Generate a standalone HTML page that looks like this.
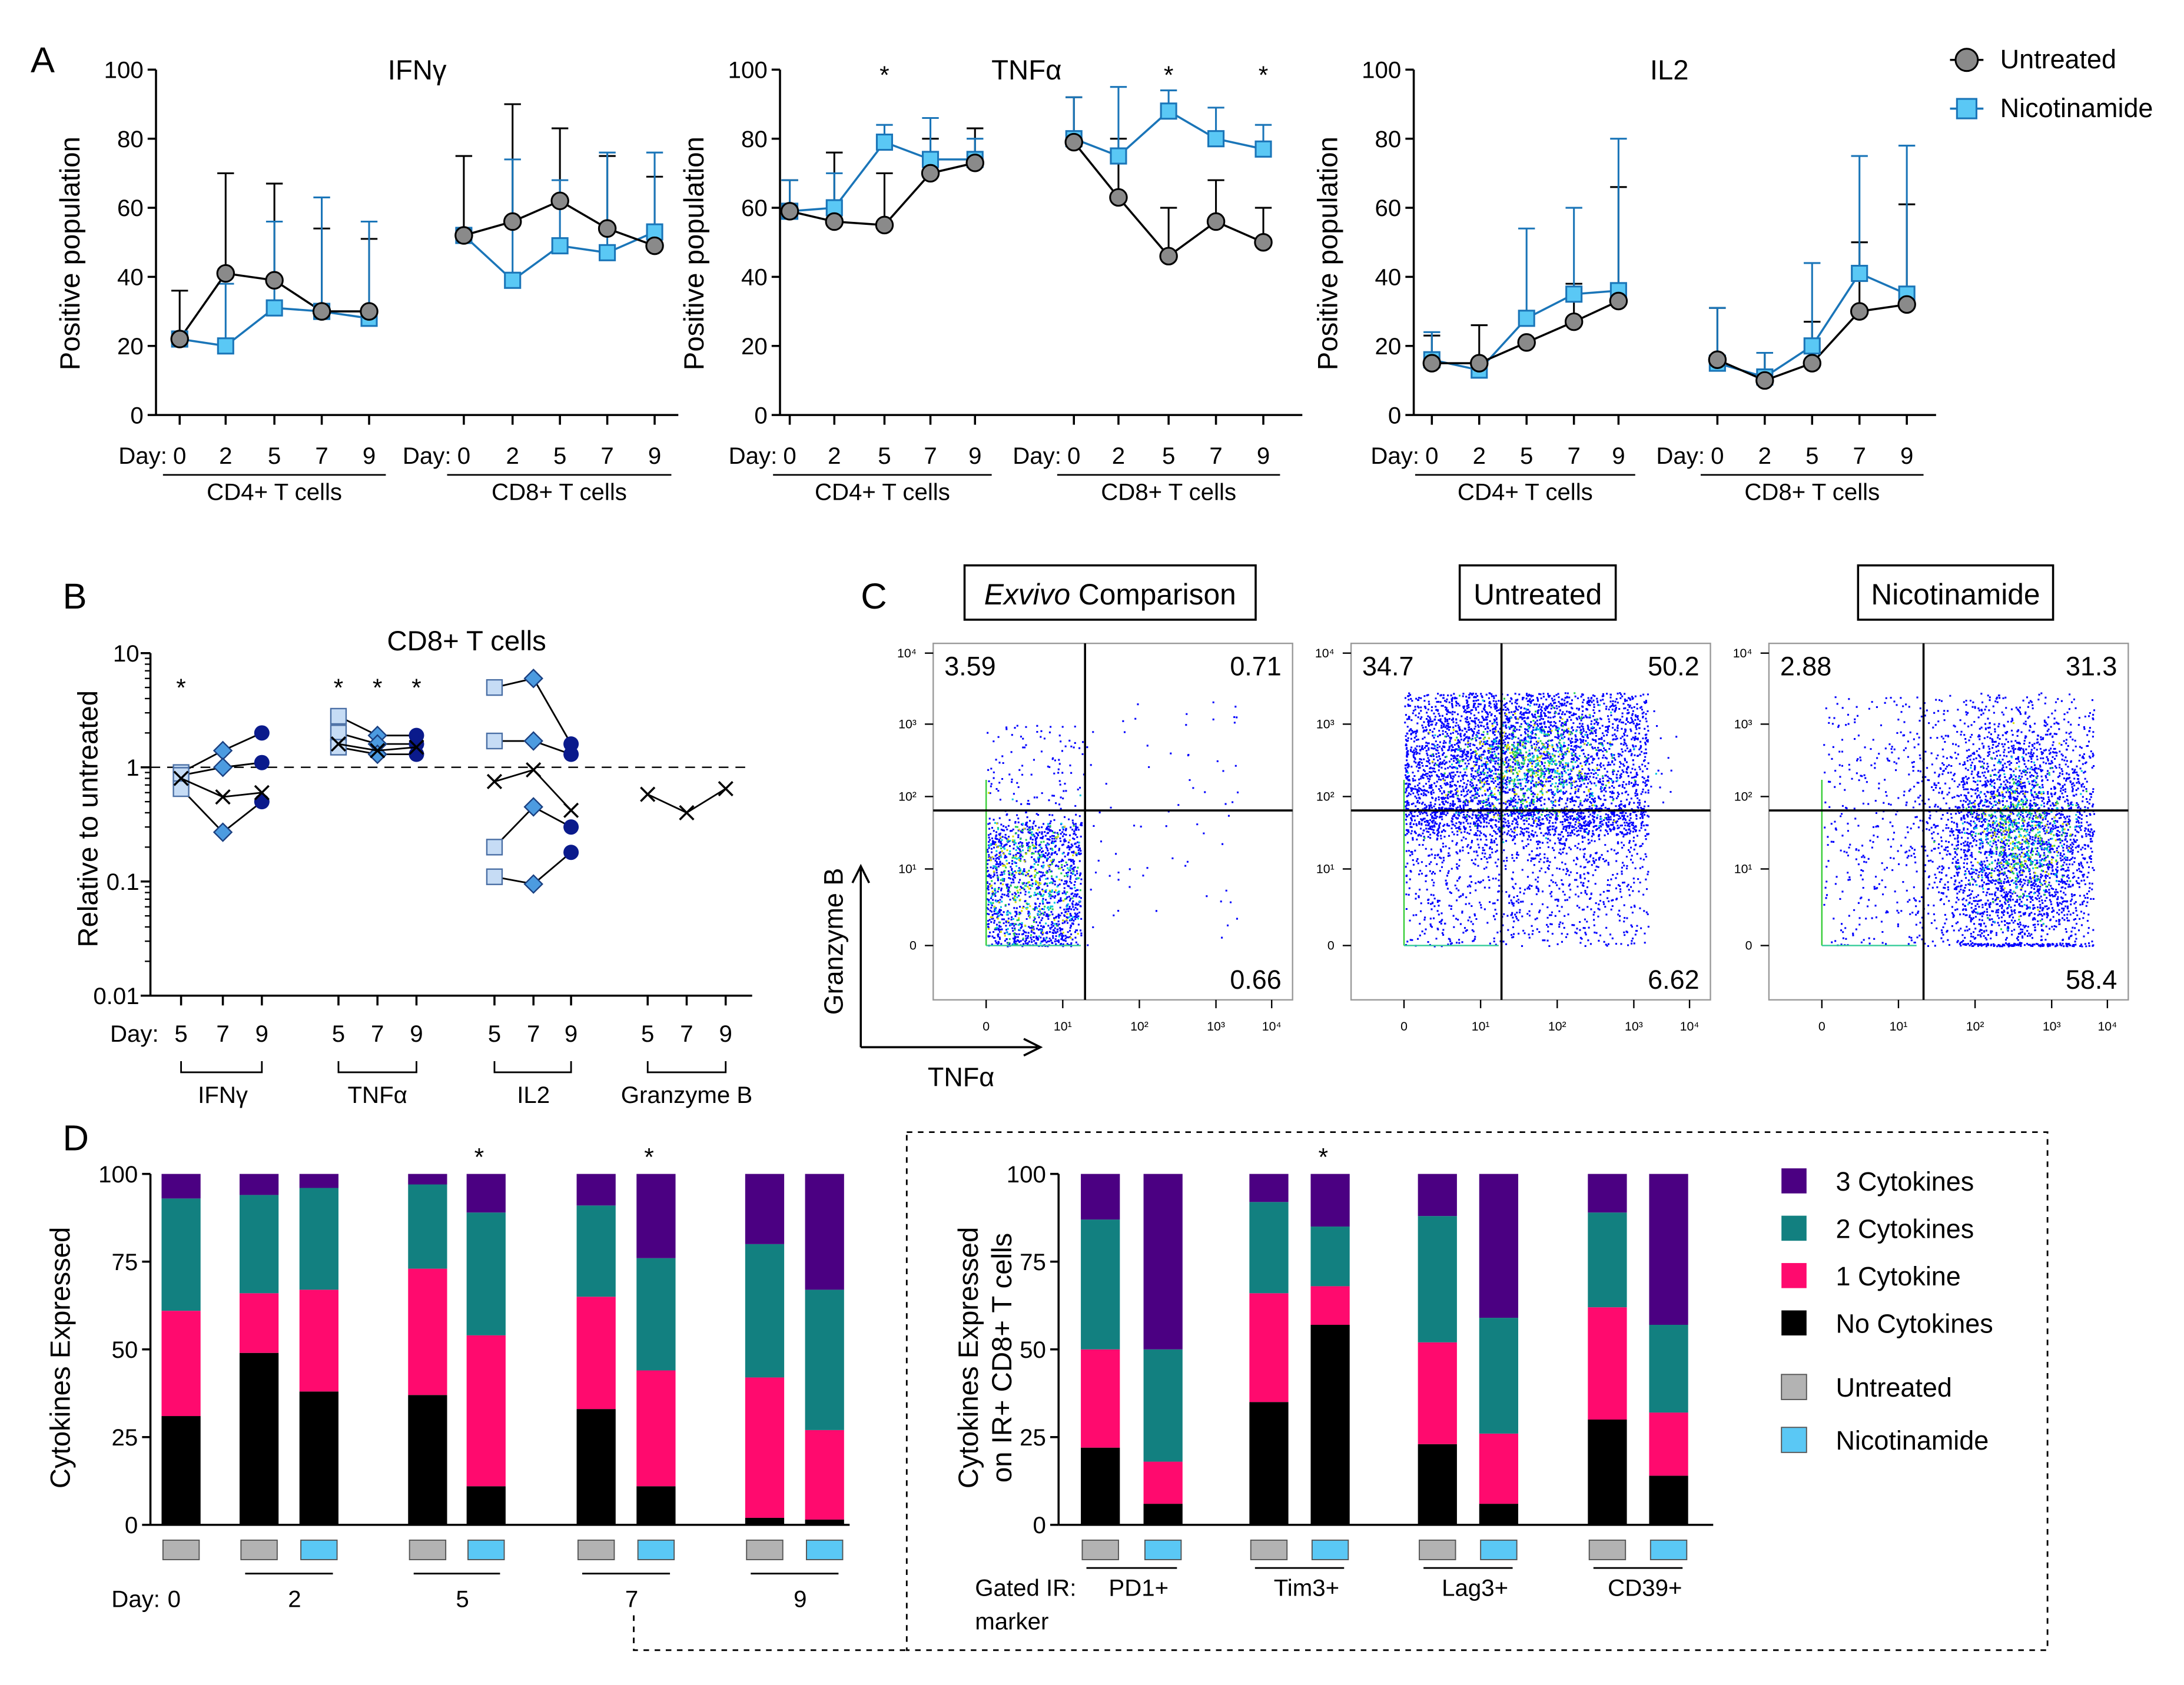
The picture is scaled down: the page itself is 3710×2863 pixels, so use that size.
<!DOCTYPE html>
<html><head><meta charset="utf-8">
<style>
html,body{margin:0;padding:0;background:#fff;}
svg{display:block;font-family:"Liberation Sans",Arial,sans-serif;}
</style></head>
<body>
<svg id="fig" width="3710" height="2863" viewBox="0 0 1568 1210" xmlns="http://www.w3.org/2000/svg">
<rect width="1568" height="1210" fill="#fff"/>
<g font-size="26">
<text x="22" y="52">A</text><text x="45" y="437">B</text><text x="618" y="437">C</text><text x="45" y="826">D</text>
</g>
</svg>
<script>
const NS='http://www.w3.org/2000/svg';
const svg=document.getElementById('fig');
function mk(tag,a,p){const e=document.createElementNS(NS,tag);for(const k in a)e.setAttribute(k,a[k]);(p||svg).appendChild(e);return e;}
function tx(x,y,s,a,p){const e=mk('text',Object.assign({x:x,y:y},a||{}),p);e.textContent=s;return e;}

// ===== Panel A data =====
const daysA=['0','2','5','7','9'];
const ifnUntr=[22,41,39,30,30, 52,56,62,54,49];
const ifnNic=[22,20,31,30,28, 52,39,49,47,53];
const ifnUntrErr=[36,70,67,54,51, 75,90,83,75,69];
const ifnNicErr=[22,38,56,63,56, 52,74,68,76,76];
const tnfUntr=[59,56,55,70,73, 79,63,46,56,50];
const tnfNic=[59,60,79,74,74, 80,75,88,80,77];
const tnfUntrErr=[68,76,70,80,83, 92,80,60,68,60];
const tnfNicErr=[68,70,84,86,80, 92,95,94,89,84];
const il2Untr=[15,15,21,27,33, 16,10,15,30,32];
const il2Nic=[16,13,28,35,36, 15,11,20,41,35];
const il2UntrErr=[23,26,21,38,66, 31,18,27,50,61];
const il2NicErr=[24,13,54,60,80, 31,18,44,75,78];
const ticksA=[0,20,40,60,80,100];

const BLUE='#1a75b8', SQ='#5ac8f5';
function drawA(ax0,xs,title,u,n,ue,ne,stars,name){
  const g=mk('g',{});
  
  
  const y=v=>298-v*2.48;
  mk('line',{x1:ax0,y1:y(100),x2:ax0,y2:298,stroke:'#000','stroke-width':1.5},g);
  mk('line',{x1:ax0,y1:298,x2:ax0+375,y2:298,stroke:'#000','stroke-width':1.5},g);
  ticksA.forEach(t=>{mk('line',{x1:ax0-6,y1:y(t),x2:ax0,y2:y(t),stroke:'#000','stroke-width':1.5},g);
    tx(ax0-9,y(t)+6,String(t),{'font-size':17,'text-anchor':'end'},g);});
  const yt=tx(0,0,'Positive population',{'font-size':20,'text-anchor':'middle',transform:`translate(${ax0-55},182) rotate(-90)`},g);
  
  tx((xs[0]+xs[9])/2,57,title,{'font-size':20,'text-anchor':'middle'},g);
  tx(xs[0]-9,333,'Day:',{'font-size':17,'text-anchor':'end'},g);
  tx(xs[5]-9,333,'Day:',{'font-size':17,'text-anchor':'end'},g);
  xs.forEach((x,i)=>{mk('line',{x1:x,y1:298,x2:x,y2:305,stroke:'#000','stroke-width':1.5},g);
    tx(x,333,daysA[i%5],{'font-size':17,'text-anchor':'middle'},g);});
  [[0,'CD4+ T cells'],[5,'CD8+ T cells']].forEach(([s,l])=>{
    mk('line',{x1:xs[s]-12,y1:341,x2:xs[s+4]+12,y2:341,stroke:'#000','stroke-width':1.2},g);
    tx((xs[s]+xs[s+4])/2,359,l,{'font-size':17,'text-anchor':'middle'},g);});
  stars.forEach(i=>tx(xs[i],60,'*',{'font-size':18,'text-anchor':'middle'},g));
  [[u,ue,'#000'],[n,ne,BLUE]].forEach(([d,e,c])=>{
    for(let i=0;i<10;i++){ if(e[i]>d[i]){
      mk('line',{x1:xs[i],y1:y(d[i]),x2:xs[i],y2:y(e[i]),stroke:c,'stroke-width':1.3},g);
      mk('line',{x1:xs[i]-6,y1:y(e[i]),x2:xs[i]+6,y2:y(e[i]),stroke:c,'stroke-width':1.3},g);}}
  });
  [0,5].forEach(s=>{
    const pu=[],pn=[];for(let i=s;i<s+5;i++){pu.push(xs[i]+','+y(u[i]));pn.push(xs[i]+','+y(n[i]));}
    mk('polyline',{points:pn.join(' '),fill:'none',stroke:BLUE,'stroke-width':1.5},g);
    mk('polyline',{points:pu.join(' '),fill:'none',stroke:'#000','stroke-width':1.5},g);
  });
  for(let i=0;i<10;i++){
    const sq=mk('rect',{x:xs[i]-5.5,y:y(n[i])-5.5,width:11,height:11,fill:SQ,stroke:BLUE,'stroke-width':1.3},g);
    
    const c=mk('circle',{cx:xs[i],cy:y(u[i]),r:6,fill:'#8a8a8a',stroke:'#000','stroke-width':1.3},g);
    
  }
}
drawA(112,[129,162,197,231,265,333,368,402,436,470],'IFNγ',ifnUntr,ifnNic,ifnUntrErr,ifnNicErr,[],'ifng-chart');
drawA(560,[567,599,635,668,700,771,803,839,873,907],'TNFα',tnfUntr,tnfNic,tnfUntrErr,tnfNicErr,[2,7,9],'tnfa-chart');
drawA(1015,[1028,1062,1096,1130,1162,1233,1267,1301,1335,1369],'IL2',il2Untr,il2Nic,il2UntrErr,il2NicErr,[],'il2-chart');

// legend A
const lg=mk('g',{});


mk('line',{x1:1400,y1:43,x2:1424,y2:43,stroke:'#000','stroke-width':1.5},lg);
mk('circle',{cx:1412,cy:43,r:8,fill:'#8a8a8a',stroke:'#000','stroke-width':1.3},lg);
tx(1436,49,'Untreated',{'font-size':19},lg);
mk('line',{x1:1400,y1:78,x2:1424,y2:78,stroke:BLUE,'stroke-width':1.5},lg);
mk('rect',{x:1405,y:71,width:14,height:14,fill:SQ,stroke:BLUE,'stroke-width':1.3},lg);
tx(1436,84,'Nicotinamide',{'font-size':19},lg);

// ===== Panel B =====
const groupsB=['IFNγ','TNFα','IL2','Granzyme B'];
const daysB=['5','7','9'];
const ifnB=[[0.9,1.4,2.0],[0.85,1.0,1.1],[0.65,0.27,0.5]];
const ifnBx=[0.8,0.55,0.6];
const tnfB=[[2.8,1.9,1.9],[2.0,1.6,1.6],[1.5,1.3,1.3]];
const tnfBx=[1.6,1.4,1.5];
const il2B=[[5.0,6.0,1.6],[1.7,1.7,1.3],[0.2,0.45,0.3],[0.11,0.095,0.18]];
const il2Bx=[0.75,0.95,0.42];
const gzmBx=[0.58,0.4,0.65];
const ticksB=[10,1,0.1,0.01];
const gB=mk('g',{});


const yB=v=>551-Math.log10(v)*82;
const xsB=[[130,160,188],[243,271,299],[355,383,410],[465,493,521]];
mk('line',{x1:108,y1:yB(10),x2:108,y2:yB(0.01),stroke:'#000','stroke-width':1.5},gB);
mk('line',{x1:108,y1:yB(0.01),x2:540,y2:yB(0.01),stroke:'#000','stroke-width':1.5},gB);
ticksB.forEach(t=>{mk('line',{x1:101,y1:yB(t),x2:108,y2:yB(t),stroke:'#000','stroke-width':1.5},gB);
  tx(100,yB(t)+6,String(t),{'font-size':17,'text-anchor':'end'},gB);
  if(t>0.01)for(let k=2;k<10;k++)mk('line',{x1:104,y1:yB(t/10*k),x2:108,y2:yB(t/10*k),stroke:'#000','stroke-width':1},gB);});
mk('line',{x1:108,y1:yB(1),x2:540,y2:yB(1),stroke:'#000','stroke-width':1,'stroke-dasharray':'7,5'},gB);
tx(0,0,'Relative to untreated',{'font-size':20,'text-anchor':'middle',transform:'translate(70,588) rotate(-90)'},gB);
tx(335,467,'CD8+ T cells',{'font-size':20,'text-anchor':'middle'},gB);
tx(114,748,'Day:',{'font-size':17,'text-anchor':'end'},gB);
xsB.forEach((xs,gi)=>{
  xs.forEach((x,i)=>{mk('line',{x1:x,y1:yB(0.01),x2:x,y2:yB(0.01)+7,stroke:'#000','stroke-width':1.5},gB);
    tx(x,748,daysB[i],{'font-size':17,'text-anchor':'middle'},gB);});
  mk('polyline',{points:`${xs[0]},762 ${xs[0]},770 ${xs[2]},770 ${xs[2]},762`,fill:'none',stroke:'#000','stroke-width':1.2},gB);
  tx(xs[1],792,groupsB[gi],{'font-size':17,'text-anchor':'middle'},gB);
});
[130,243,271,299].forEach(x=>tx(x,500,'*',{'font-size':18,'text-anchor':'middle'},gB));
function donor(xs,vals){
  mk('polyline',{points:vals.map((v,i)=>xs[i]+','+yB(v)).join(' '),fill:'none',stroke:'#000','stroke-width':1.2},gB);
  vals.forEach((v,i)=>{const x=xs[i],y=yB(v);let e;
    if(i===0)e=mk('rect',{x:x-5.5,y:y-5.5,width:11,height:11,fill:'#c6dcf5',stroke:'#4a6fa5','stroke-width':1},gB);
    else if(i===1)e=mk('rect',{x:x-4.5,y:y-4.5,width:9,height:9,fill:'#4c9be0',stroke:'#1a3f80','stroke-width':1,transform:`rotate(45 ${x} ${y})`},gB);
    else e=mk('circle',{cx:x,cy:y,r:5.5,fill:'#0a1a8c'},gB);
    });
}
function xdonor(xs,vals){
  mk('polyline',{points:vals.map((v,i)=>xs[i]+','+yB(v)).join(' '),fill:'none',stroke:'#000','stroke-width':1.2},gB);
  vals.forEach((v,i)=>{const x=xs[i],y=yB(v);
    const e=mk('path',{d:`M${x-5},${y-5}L${x+5},${y+5}M${x-5},${y+5}L${x+5},${y-5}`,stroke:'#000','stroke-width':1.5},gB);
    });
}
ifnB.forEach(d=>donor(xsB[0],d));xdonor(xsB[0],ifnBx);
tnfB.forEach(d=>donor(xsB[1],d));xdonor(xsB[1],tnfBx);
il2B.forEach(d=>donor(xsB[2],d));xdonor(xsB[2],il2Bx);
xdonor(xsB[3],gzmBx);

// ===== Panel C (flow plots) =====
let seed=12345;function rnd(){seed=(seed*1664525+1013904223)>>>0;return seed/4294967296;}
function gauss(){return Math.sqrt(-2*Math.log(rnd()+1e-9))*Math.cos(2*Math.PI*rnd());}
const flowTitles=['Untreated','Nicotinamide'];
const flowQ=[['3.59','0.71','0.66'],['34.7','50.2','6.62'],['2.88','31.3','58.4']];
const flowX=[670,970,1270];
const flowVX=[779,1078,1381];
flowX.forEach((x0,pi)=>{
  const g=mk('g',{});
  
  
  const W=258,T=462,B=718;
  mk('rect',{x:x0,y:T,width:W,height:B-T,fill:'#fff',stroke:'#999','stroke-width':1},g);
  const zx=x0+38, zy=679;
  let pts=[];
  const N=[1700,5500,4200][pi];
  for(let i=0;i<N;i++){
    let px,py,d;
    if(pi===0){ const r=rnd();
      if(r<0.85){px=zx+rnd()*68;py=590+Math.abs(gauss())*0+rnd()*90;}
      else if(r<0.95){px=zx+rnd()*70;py=520+rnd()*70;}
      else{px=zx+70+rnd()*110;py=500+rnd()*180;}
      d=Math.hypot((px-zx-30)/30,(py-630)/40);}
    else if(pi===1){ const r=rnd();
      if(r<0.78){px=zx+rnd()*175;py=495+rnd()*105; if(rnd()<0.4){px=1090+gauss()*40;py=545+gauss()*28;}}
      else{px=zx+rnd()*175;py=580+Math.pow(rnd(),1.5)*100;}
      d=Math.hypot((px-1100)/45,(py-548)/30);}
    else { const r=rnd();
      if(r<0.8){px=1450+gauss()*32;py=600+gauss()*45;}
      else{px=zx+rnd()*200;py=500+rnd()*180;}
      d=Math.hypot((px-1450)/30,(py-600)/40);}
    if(px<zx)px=zx+rnd()*3; if(py>zy)py=zy-rnd()*2; if(px>x0+W-25||py<T+35)continue;
    const p=Math.exp(-d*d), q=rnd();
    const col=q<p*0.12?'#d4e000':q<p*0.3?'#22cc55':q<p*0.5?'#00c8e0':'#0000ff';
    pts.push([px,py,col]);
  }
  pts.sort((a,b)=>(a[2]==='#0000ff'?0:1)-(b[2]==='#0000ff'?0:1));
  let paths={};
  pts.forEach(p=>{(paths[p[2]]=paths[p[2]]||[]).push(`M${p[0].toFixed(1)},${p[1].toFixed(1)}h1.3v1.3h-1.3z`);});
  for(const c in paths){const e=mk('path',{d:paths[c].join(''),fill:c},g);}
  mk('line',{x1:zx,y1:560,x2:zx,y2:zy,stroke:'#33cc33','stroke-width':1},g);
  mk('line',{x1:zx,y1:zy,x2:zx+68,y2:zy,stroke:'#33cc99','stroke-width':1},g);
  mk('line',{x1:flowVX[pi],y1:T,x2:flowVX[pi],y2:B,stroke:'#000','stroke-width':1.5},g);
  mk('line',{x1:x0,y1:582,x2:x0+W,y2:582,stroke:'#000','stroke-width':1.5},g);
  tx(x0+8,485,flowQ[pi][0],{'font-size':19},g);
  tx(x0+W-8,485,flowQ[pi][1],{'font-size':19,'text-anchor':'end'},g);
  tx(x0+W-8,710,flowQ[pi][2],{'font-size':19,'text-anchor':'end'},g);
  const ly=[['10⁴',469],['10³',520],['10²',572],['10¹',624],['0',679]];
  ly.forEach(([s,y])=>{tx(x0-12,y+3,s,{'font-size':9,'text-anchor':'end'},g);mk('line',{x1:x0-6,y1:y,x2:x0,y2:y,stroke:'#000'},g);});
  const lx=[['0',zx],['10¹',zx+55],['10²',zx+110],['10³',zx+165],['10⁴',zx+205]];
  lx.forEach(([s,x])=>{tx(x,740,s,{'font-size':9,'text-anchor':'middle'},g);mk('line',{x1:x,y1:B,x2:x,y2:B+6,stroke:'#000'},g);});
  const bw=[209,112,140][pi], cx=[797,1104,1404][pi];
  mk('rect',{x:cx-bw/2,y:406,width:bw,height:39,fill:'#fff',stroke:'#000','stroke-width':1.5},g);
  if(pi===0){const t=tx(cx,434,'',{'font-size':21,'text-anchor':'middle'},g);
    const a=mk('tspan',{'font-style':'italic'},t);a.textContent='Exvivo';const b=mk('tspan',{},t);b.textContent=' Comparison';}
  else tx(cx,434,flowTitles[pi-1],{'font-size':21,'text-anchor':'middle'},g);
});
const ax=mk('g',{});


mk('path',{d:'M618,752V624M612,634L618,622L624,634M618,752H745M735,746L747,752L735,758',fill:'none',stroke:'#000','stroke-width':1.5},ax);
tx(0,0,'Granzyme B',{'font-size':19,'text-anchor':'middle',transform:'translate(605,676) rotate(-90)'},ax);
tx(690,780,'TNFα',{'font-size':19,'text-anchor':'middle'},ax);

// ===== Panel D =====
const COLS=['#000','#ff0a6e','#128080','#4b0082'];
const dayCats=['0','2','5','7','9'];
const dNone=[31,49,38,37,11,33,11,2,1.5];
const d1Cyt=[30,17,29,36,43,32,33,40,25.5];
const d2Cyt=[32,28,29,24,35,26,32,38,40];
const dGroup=['U','U','N','U','N','U','N','U','N'];
const irCats=['PD1+','Tim3+','Lag3+','CD39+'];
const irNone=[22,6,35,57,23,6,30,14];
const ir1Cyt=[28,12,31,11,29,20,32,18];
const ir2Cyt=[37,32,26,17,36,33,27,25];
const irGroup=['U','N','U','N','U','N','U','N'];

function stackChart(ax0,axEnd,xs,nn,c1,c2,grp,name,stars,ytitle){
  const g=mk('g',{});
  
  
  const y=v=>1095-v*2.52;
  mk('line',{x1:ax0,y1:y(100),x2:ax0,y2:y(0),stroke:'#000','stroke-width':1.5},g);
  mk('line',{x1:ax0,y1:y(0),x2:axEnd,y2:y(0),stroke:'#000','stroke-width':1.5},g);
  [0,25,50,75,100].forEach(t=>{mk('line',{x1:ax0-6,y1:y(t),x2:ax0,y2:y(t),stroke:'#000','stroke-width':1.5},g);
    tx(ax0-9,y(t)+6,String(t),{'font-size':17,'text-anchor':'end'},g);});
  ytitle.forEach((s,i)=>tx(0,0,s,{'font-size':20,'text-anchor':'middle',transform:`translate(${ax0-58+i*24},${975}) rotate(-90)`},g));
  xs.forEach((x,i)=>{
    const segs=[nn[i],c1[i],c2[i],100-nn[i]-c1[i]-c2[i]];let acc=0;
    segs.forEach((s,k)=>{const r=mk('rect',{x:x-14,y:y(acc+s),width:28,height:s*2.52,fill:COLS[k]},g);
      acc+=s;});
    const sw=mk('rect',{x:x-13,y:1106,width:26,height:14,fill:grp[i]==='U'?'#b3b3b3':'#5ac8f5',stroke:'#555','stroke-width':0.8},g);
    
  });
  stars.forEach(x=>tx(x,837,'*',{'font-size':18,'text-anchor':'middle'},g));
  return {g,y};
}
const xsD=[130,186,229,307,349,428,471,549,592];
const L=stackChart(108,610,xsD,dNone,d1Cyt,d2Cyt,dGroup,'cytokines-by-day-chart',[344,466],['Cytokines Expressed']);
tx(80,1154,'Day:',{'font-size':17},L.g);
[[130,130],[186,229],[307,349],[428,471],[549,592]].forEach((p,i)=>{
  if(i>0)mk('line',{x1:p[0]-10,y1:1130,x2:p[1]+10,y2:1130,stroke:'#000','stroke-width':1.2},L.g);
  tx(i===0?125:(p[0]+p[1])/2+4,1154,dayCats[i],{'font-size':17,'text-anchor':'middle'},L.g);});

const xsR=[790,835,911,955,1032,1076,1154,1198];
const R=stackChart(760,1230,xsR,irNone,ir1Cyt,ir2Cyt,irGroup,'cytokines-by-ir-chart',[950],['Cytokines Expressed','on IR+ CD8+ T cells']);
tx(700,1146,'Gated IR:',{'font-size':17},R.g);
tx(700,1170,'marker',{'font-size':17},R.g);
irCats.forEach((c,i)=>{const a=xsR[2*i],b=xsR[2*i+1];
  mk('line',{x1:a-10,y1:1126,x2:b+10,y2:1126,stroke:'#000','stroke-width':1.2},R.g);
  tx((a+b)/2+5,1146,c,{'font-size':17,'text-anchor':'middle'},R.g);});
const db=mk('path',{d:'M651,813H1470V1185H651V813M455,1160V1185H651',fill:'none',stroke:'#000','stroke-width':1.2,'stroke-dasharray':'4,4'});


const legD=mk('g',{});


[['3 Cytokines','#4b0082',848],['2 Cytokines','#128080',882],['1 Cytokine','#ff0a6e',916],['No Cytokines','#000',950],['Untreated','#b3b3b3',996],['Nicotinamide','#5ac8f5',1034]].forEach(([s,c,y])=>{
  mk('rect',{x:1279,y:y-9,width:18,height:18,fill:c,stroke:(c==='#b3b3b3'||c==='#5ac8f5')?'#555':'none','stroke-width':0.8},legD);
  tx(1318,y+7,s,{'font-size':19},legD);});
</script>
</body></html>
